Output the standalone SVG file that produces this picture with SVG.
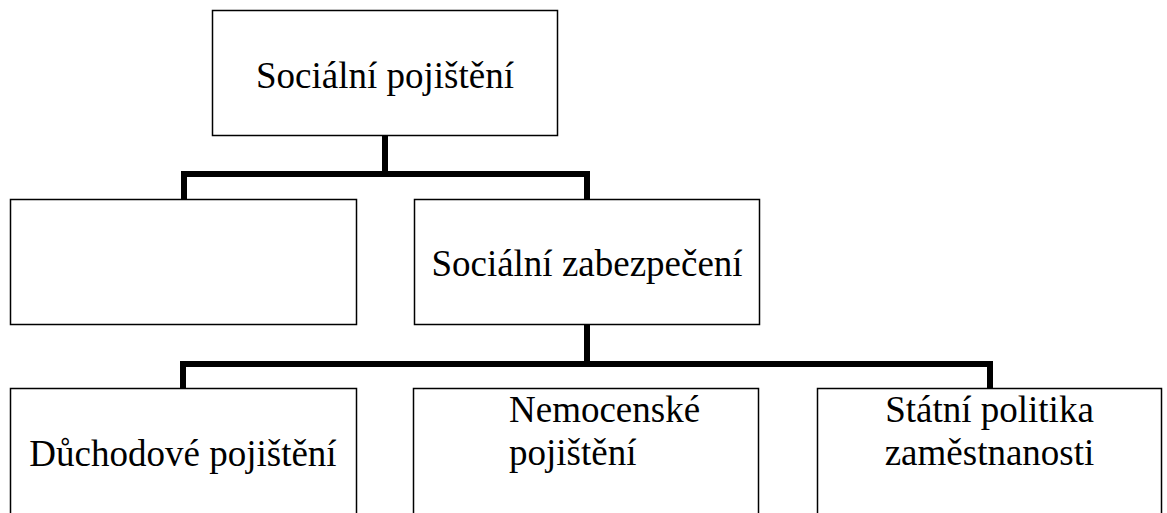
<svg xmlns="http://www.w3.org/2000/svg" width="1167" height="513" viewBox="0 0 1167 513">
<style>
.box{fill:#fff;stroke:#000;stroke-width:1.5}
.conn{fill:none;stroke:#000;stroke-width:6;stroke-linejoin:miter}
text{font-family:"Liberation Serif","Times New Roman",serif;font-size:37px;fill:#000}
.c{text-anchor:middle}
</style>
<rect width="1167" height="513" fill="#fff"/>
<g id="connectors">
<path class="conn" d="M385 136V174M184 199V174H587V199"/>
<path class="conn" d="M587 325V364M183 388V364H990V388"/>
</g>
<g id="n-socialni-pojisteni">
<rect class="box" x="212.5" y="10.5" width="345" height="125"/>
<text class="c" x="385" y="88">Sociální pojištění</text>
</g>
<g id="n-empty">
<rect class="box" x="10.5" y="199.5" width="346" height="125"/>
</g>
<g id="n-socialni-zabezpeceni">
<rect class="box" x="414.5" y="199.5" width="345" height="125"/>
<text class="c" x="587" y="276">Sociální zabezpečení</text>
</g>
<g id="n-duchodove">
<rect class="box" x="10.5" y="388.5" width="346" height="140"/>
<text class="c" x="183" y="466">Důchodové pojištění</text>
</g>
<g id="n-nemocenske">
<rect class="box" x="413.5" y="388.5" width="345" height="140"/>
<text x="509" y="422">Nemocenské</text>
<text x="509" y="465">pojištění</text>
</g>
<g id="n-statni-politika">
<rect class="box" x="817.5" y="388.5" width="344" height="140"/>
<text class="c" x="989.5" y="422">Státní politika</text>
<text class="c" x="989.5" y="465">zaměstnanosti</text>
</g>
</svg>
